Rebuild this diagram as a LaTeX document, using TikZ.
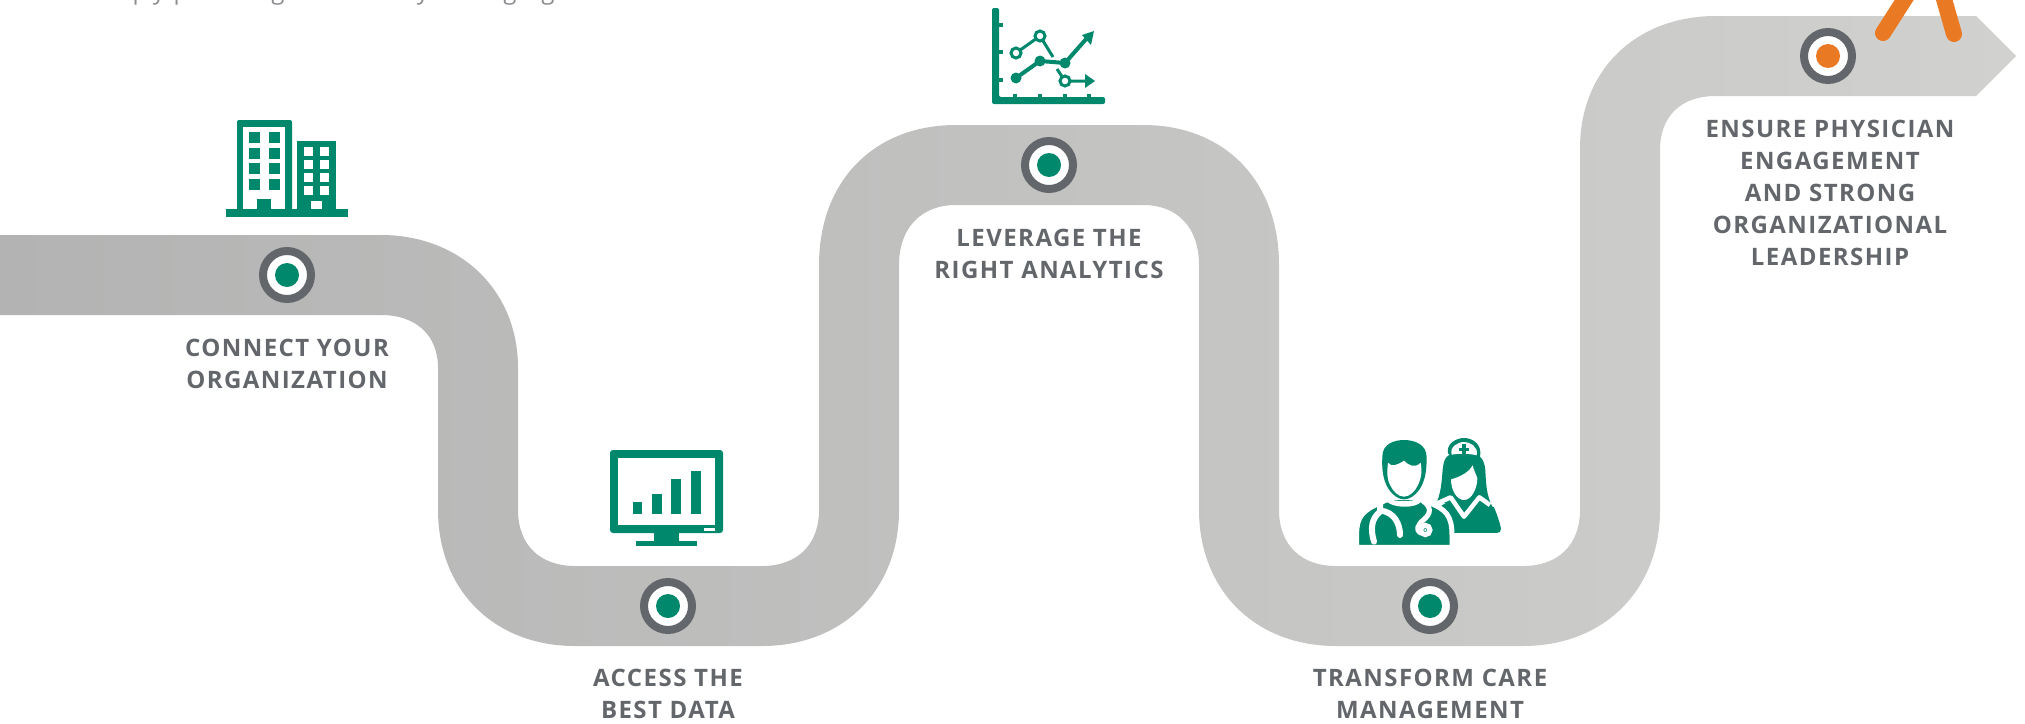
\documentclass[tikz,border=0pt]{standalone}
\usepackage{fontspec}
\newfontfamily\lblfont[LetterSpace=6]{Open Sans}
\newfontfamily\topfont{Open Sans}
\definecolor{tealc}{HTML}{00886D}
\definecolor{darkg}{HTML}{63666A}
\definecolor{oran}{HTML}{E97A23}
\definecolor{ribL}{HTML}{B2B3B2}
\definecolor{ribR}{HTML}{D1D1CF}
\definecolor{topg}{HTML}{8A8C8F}
\tikzset{
  lbl/.style={align=center,text=darkg,font=\lblfont\bfseries\fontsize{24}{32}\selectfont,inner sep=0pt},
  frag/.style={anchor=base,text=topg,font=\topfont\fontsize{24}{28}\selectfont,inner sep=0pt},
  ring/.style={circle,fill=white,draw=darkg,line width=8pt,minimum size=48pt,inner sep=0pt},
  dot/.style={circle,minimum size=24pt,inner sep=0pt},
  tl/.style={fill=tealc,draw=none},
  wh/.style={fill=white,draw=none},
  chartline/.style={draw=tealc,line width=4pt},
  orline/.style={draw=oran,line width=16pt,line cap=round}
}
\begin{document}
\begin{tikzpicture}[x=1pt,y=-1pt]
\useasboundingbox (0,0) rectangle (2025,723);
\clip (0,0) rectangle (2025,723);
% ribbon
\path[left color=ribL,right color=ribR]
 (0,235) -- (381,235) .. controls (460,235) and (518,290) .. (518,368)
 -- (518,510) .. controls (518,545) and (540,566) .. (575,566)
 -- (762,566) .. controls (797,566) and (819,545) .. (819,510)
 -- (819,265) .. controls (819,180) and (875,125) .. (956,125)
 -- (1143,125) .. controls (1224,125) and (1279,180) .. (1279,265)
 -- (1279,510) .. controls (1279,545) and (1301,566) .. (1336,566)
 -- (1523,566) .. controls (1558,566) and (1580,545) .. (1580,510)
 -- (1580,148) .. controls (1580,70) and (1636,16) .. (1716,16)
 -- (1976,16) -- (2016,56) -- (1976,96)
 -- (1716,96) .. controls (1681,96) and (1660,116) .. (1660,150)
 -- (1660,510) .. controls (1660,590) and (1604,646) .. (1523,646)
 -- (1336,646) .. controls (1255,646) and (1199,590) .. (1199,510)
 -- (1199,265) .. controls (1199,228) and (1178,205) .. (1143,205)
 -- (956,205) .. controls (921,205) and (899,228) .. (899,265)
 -- (899,510) .. controls (899,590) and (843,646) .. (762,646)
 -- (575,646) .. controls (494,646) and (438,590) .. (438,510)
 -- (438,368) .. controls (438,335) and (416,315) .. (381,315)
 -- (0,315) -- cycle;
% cut-off line of text at the top edge
\node[frag] (fa) at (140,-1) {p};
\node[frag] (fb) at (159,-1) {y};
\node[frag] (fc) at (181,-1) {p};
\node[frag] (fd) at (278,-1) {g};
\node[frag] (fe) at (423,-1) {y};
\node[frag] (ff) at (510,-1) {g};
\node[frag] (fg) at (548,-1) {g};
% markers
\node[ring] (m1) at (287,275) {}; \node[dot,fill=tealc] (d1) at (m1) {};
\node[ring] (m2) at (668,606) {}; \node[dot,fill=tealc] (d2) at (m2) {};
\node[ring] (m3) at (1049,165) {}; \node[dot,fill=tealc] (d3) at (m3) {};
\node[ring] (m4) at (1430,606) {}; \node[dot,fill=tealc] (d4) at (m4) {};
\node[ring] (m5) at (1828,56) {}; \node[dot,fill=oran] (d5) at (m5) {};
% labels
\node[lbl] (l1) at (287,364) {CONNECT YOUR\\ORGANIZATION};
\node[lbl] (l2) at (668,694) {ACCESS THE\\BEST DATA};
\node[lbl] (l3) at (1049,254) {LEVERAGE THE\\RIGHT ANALYTICS};
\node[lbl] (l4) at (1430,694) {TRANSFORM CARE\\MANAGEMENT};
\node[lbl] (l5) at (1830,193) {ENSURE PHYSICIAN\\ENGAGEMENT\\AND STRONG\\ORGANIZATIONAL\\LEADERSHIP};
% orange figure legs
\draw[orline] (1883,33) -- (1908,-6);
\draw[orline] (1954,34) -- (1942,-8);
% building icon
\fill[tl] (226,209) rectangle (348,217);
\fill[tl,rounded corners=2pt] (237,212) -- (237,120) -- (292,120) -- (292,212) -- cycle;
\fill[wh] (243,127) rectangle (285,209);
\foreach \yy in {132,148,163,179}{
  \fill[tl] (249,\yy) rectangle (260,\yy+11);
  \fill[tl] (269,\yy) rectangle (280,\yy+11);
}
\fill[tl] (257,199) rectangle (271,209);
\fill[tl] (297,141) rectangle (336,212);
\foreach \yy in {147,160,173,186}{
  \fill[wh] (304,\yy) rectangle (313,\yy+9);
  \fill[wh] (320,\yy) rectangle (329,\yy+9);
}
\fill[wh] (311,201) rectangle (322,209);
% monitor icon
\fill[tl,rounded corners=3pt] (610,450) rectangle (723,533);
\fill[wh] (618,458) rectangle (715,525);
\fill[tl] (633,502) rectangle (642,514);
\fill[tl] (652,494) rectangle (662,514);
\fill[tl] (671,479) rectangle (681,514);
\fill[tl] (691,471) rectangle (701,514);
\fill[wh] (704,528) rectangle (715,531);
\fill[tl] (654,533) rectangle (679,541);
\fill[tl] (636,541) rectangle (697,546);
% chart icon
\fill[tl,rounded corners=2pt] (992,8) -- (992,104) -- (1105,104) -- (1105,97) -- (999,97) -- (999,8) -- cycle;
\foreach \yy in {25,52,80}{\fill[tl] (999,\yy-2) rectangle (1003,\yy+2);}
\foreach \xx in {1015,1040,1065,1089}{\fill[tl] (\xx-2,94) rectangle (\xx+2,97);}
\draw[chartline] (1016,78) -- (1040,61) -- (1065,63) -- (1087,38);
\fill[tl] (1094,31) -- (1082,35) -- (1091,45) -- cycle;
\fill[tl] (1016,78) circle (5.5);
\fill[tl] (1040,61) circle (5.5);
\fill[tl] (1065,63) circle (5.5);
\draw[chartline,line width=3pt] (1016,53) -- (1040,36) -- (1053,57);
\draw[chartline,line width=3pt] (1057,69) -- (1065,81) -- (1088,81);
\fill[tl] (1095,81) -- (1085,74) -- (1085,88) -- cycle;
\foreach \p in {(1016,53),(1040,36),(1065,81)}{\draw[draw=tealc,fill=white,line width=3pt] \p circle (5);}
% care-team icon
\begin{scope}[shift={(1340,420)},x=0.3333pt,y=-0.3333pt]
 % nurse hair
 \fill[tl] (290,248) .. controls (308,205) and (305,160) .. (310,135) .. controls (315,105) and (330,98) .. (372,98)
   .. controls (415,98) and (432,110) .. (436,150) .. controls (438,195) and (440,225) .. (456,258) -- cycle;
 % nurse cap
 \fill[tl] (324,100) .. controls (318,70) and (350,54) .. (372,54) .. controls (395,54) and (428,70) .. (420,112) -- (335,112) -- cycle;
 \fill[wh] (335,104) .. controls (328,80) and (355,66) .. (372,66) .. controls (390,66) and (416,80) .. (410,106) .. controls (385,100) and (360,100) .. (335,104) -- cycle;
 \fill[tl] (367,73) rectangle (377,103);
 \fill[tl] (357,83) rectangle (387,93);
 % nurse body
 \fill[tl] (296,262) -- (340,236) -- (410,236) -- (462,262) .. controls (472,285) and (480,310) .. (483,326) .. controls (484,335) and (478,339) .. (470,339) -- (330,339) -- cycle;
 % nurse collar
 \draw[white,line width=4.5pt,line join=round] (292,250) -- (332,232) -- (372,290) -- (418,232) -- (450,255);
 % nurse face
 \fill[wh] (333,178) .. controls (355,172) and (385,160) .. (398,136) .. controls (402,155) and (410,165) .. (412,175)
   .. controls (412,205) and (395,240) .. (372,240) .. controls (350,240) and (333,210) .. (333,178) -- cycle;
 % doctor body
 \path[tl,draw=white,line width=5pt] (50,380) -- (50,340) .. controls (50,290) and (70,270) .. (118,250) -- (155,232) -- (235,232) -- (272,250)
   .. controls (315,268) and (336,285) .. (336,345) -- (336,382) -- (50,382) -- cycle;
 % doctor head
 \fill[tl] (127,110) .. controls (127,70) and (165,60) .. (192,60) .. controls (222,60) and (260,72) .. (260,112)
   .. controls (260,150) and (256,170) .. (250,185) .. controls (240,215) and (215,238) .. (192,238)
   .. controls (170,238) and (145,215) .. (135,185) .. controls (130,170) and (125,150) .. (127,110) -- cycle;
 \fill[wh] (144,128) .. controls (155,142) and (170,136) .. (192,122) .. controls (205,136) and (225,146) .. (242,128)
   .. controls (248,165) and (240,182) .. (234,195) .. controls (225,215) and (208,230) .. (192,230)
   .. controls (175,230) and (160,215) .. (150,195) .. controls (142,180) and (140,160) .. (144,128) -- cycle;
 % neck crescent
 \fill[wh] (148,237) .. controls (165,245) and (215,245) .. (236,237) -- (243,246) .. controls (225,265) and (165,265) .. (141,246) -- cycle;
 % stethoscope
 \draw[white,line width=6pt,line cap=round] (120,248) -- (120,272) .. controls (165,275) and (180,315) .. (180,345);
 \draw[white,line width=6pt,line cap=round] (120,275) .. controls (95,295) and (90,325) .. (102,365);
 \draw[white,line width=5pt,line cap=round] (245,240) .. controls (275,260) and (275,280) .. (250,300) .. controls (232,315) and (228,330) .. (240,338);
 \draw[white,line width=5pt] (256,330) circle (14);
 \fill[wh] (256,330) circle (4);
\end{scope}
\end{tikzpicture}
\end{document}
